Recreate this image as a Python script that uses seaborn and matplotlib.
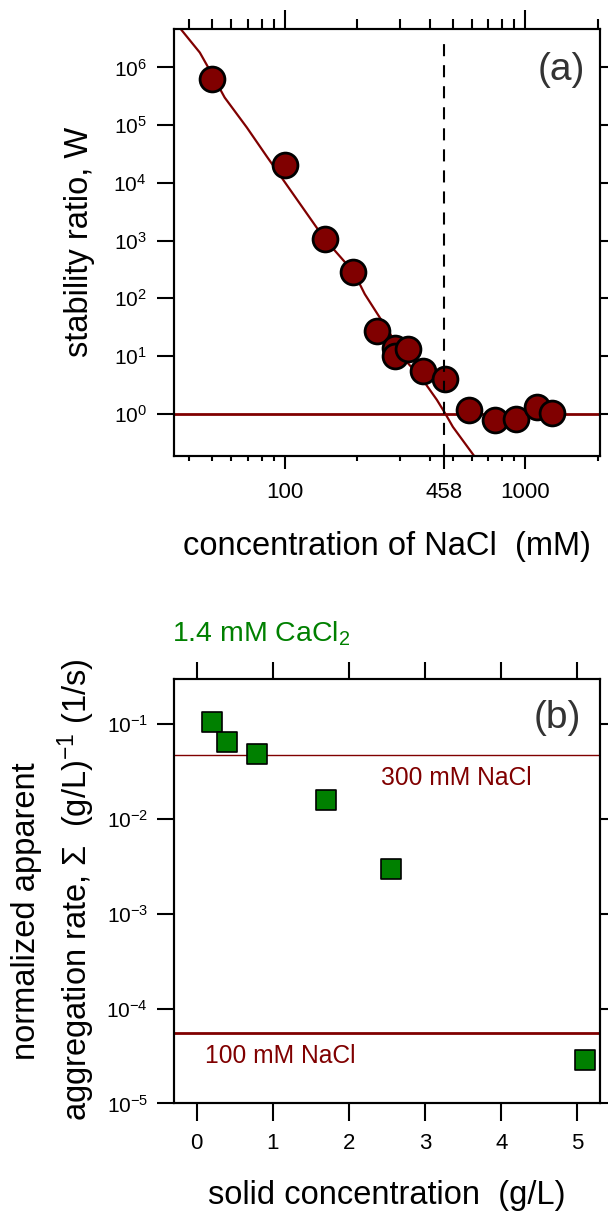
import matplotlib
matplotlib.use("Agg")
import matplotlib.pyplot as plt
import seaborn as sns
from matplotlib.ticker import LogLocator, NullFormatter, FixedLocator, FixedFormatter, MultipleLocator

# panel (a): stability ratio vs NaCl concentration
nacl_mM = [50, 100, 147, 193, 241, 287, 287, 326, 376, 463, 584, 745, 912, 1118, 1298]
stability_W = [6.2e5, 2.07e4, 1.06e3, 285, 27, 13.5, 10, 13, 5.5, 4.0, 1.16, 0.78, 0.82, 1.32, 1.02]

# fitted curve
fit_x = [36.2, 44.3, 48.8, 56.2, 69.5, 84.1, 98.1, 146.7, 193.5, 215, 273, 325, 375, 429, 463, 500, 617]
fit_y = [5.1e6, 1.81e6, 8.85e5, 3.01e5, 9.1e4, 2.87e4, 1.15e4, 1052, 283, 118, 24.9, 7.5, 3.83, 1.73, 1.03, 0.589, 0.178]

fast_W = 1.0
ccc_mM = 458
x_ticks_a = [100, 458, 1000]

# panel (b): normalized apparent aggregation rate vs solid concentration
solid_gL = [0.2, 0.4, 0.8, 1.7, 2.55, 5.1]
rate_cacl2 = [0.106, 0.0656, 0.049, 0.0158, 0.00296, 2.84e-5]
rate_300mM = 0.0471
rate_100mM = 5.47e-5

DARKRED = "#800000"
GREEN = "#008000"
LABEL_FS = 23.5

sns.set_theme(style="ticks")
plt.rcParams["font.family"] = ["Liberation Sans", "DejaVu Sans"]
plt.rcParams["mathtext.fontset"] = "custom"
plt.rcParams["mathtext.rm"] = "Liberation Sans"
plt.rcParams["mathtext.it"] = "Liberation Sans:italic"
plt.rcParams["mathtext.bf"] = "Liberation Sans:bold"
plt.rcParams["axes.unicode_minus"] = False
plt.rcParams["axes.edgecolor"] = "black"
plt.rcParams["axes.labelcolor"] = "black"
plt.rcParams["xtick.color"] = "black"
plt.rcParams["ytick.color"] = "black"
plt.rcParams["text.color"] = "black"

fig = plt.figure(figsize=(6.08, 12.17), dpi=100)
ax1 = fig.add_axes([0.2857, 0.6256, 0.7015, 0.3506])
ax2 = fig.add_axes([0.2857, 0.0933, 0.7015, 0.3488])

# ---- panel (a)
ax1.set_xscale("log")
ax1.set_yscale("log")
ax1.axhline(fast_W, color=DARKRED, lw=2, zorder=1)
sns.lineplot(x=fit_x, y=fit_y, ax=ax1, color=DARKRED, lw=1.6, sort=False,
             estimator=None, zorder=2)
sns.scatterplot(x=nacl_mM, y=stability_W, ax=ax1, s=320, color=DARKRED,
                edgecolor="black", linewidth=2, zorder=3)
ax1.axvline(ccc_mM, ymax=0.967, color="black", lw=1.5, ls=(0, (5.8, 4.3)), zorder=4)

ax1.set_xlim(34.5, 2050)
ax1.set_ylim(0.187, 4.64e6)
ax1.xaxis.set_major_locator(FixedLocator(x_ticks_a))
ax1.xaxis.set_major_formatter(FixedFormatter([str(t) for t in x_ticks_a]))
ax1.xaxis.set_minor_locator(LogLocator(base=10, subs=range(2, 10)))
ax1.xaxis.set_minor_formatter(NullFormatter())
ax1.yaxis.set_major_locator(LogLocator(base=10, numticks=20))
ax1.yaxis.set_minor_locator(FixedLocator([]))
ax1.tick_params(axis="x", which="major", length=9, width=1.5, pad=10, labelsize=16)
ax1.tick_params(axis="x", which="minor", length=3.6, width=1.5)
ax1.tick_params(axis="y", which="major", length=12.5, width=1.5, pad=7, labelsize=15,
                right=True, labelright=False)
for sp in ax1.spines.values():
    sp.set_visible(True)
    sp.set_linewidth(1.5)

ax1t = ax1.twiny()
ax1t.set_xscale("log")
ax1t.set_xlim(ax1.get_xlim())
ax1t.xaxis.set_major_locator(FixedLocator([100, 1000]))
ax1t.xaxis.set_minor_locator(LogLocator(base=10, subs=range(2, 10)))
ax1t.xaxis.set_minor_formatter(NullFormatter())
ax1t.tick_params(axis="x", which="major", length=14, width=1.5, labeltop=False)
ax1t.tick_params(axis="x", which="minor", length=7, width=1.5)
for sp in ax1t.spines.values():
    sp.set_linewidth(1.5)

ax1.set_xlabel("concentration of NaCl  (mM)", fontsize=LABEL_FS, va="center")
ax1.xaxis.set_label_coords(0.5, -0.213)
ax1.set_ylabel("stability ratio, W", fontsize=LABEL_FS, va="center")
ax1.yaxis.set_label_coords(-0.222, 0.5)
ax1.text(0.908, 0.904, "(a)", transform=ax1.transAxes, fontsize=28, color="#333333",
         ha="center", va="center")

# ---- panel (b)
ax2.set_yscale("log")
ax2.axhline(rate_300mM, color=DARKRED, lw=1.0, zorder=1)
ax2.axhline(rate_100mM, color=DARKRED, lw=2.0, zorder=1)
sns.scatterplot(x=solid_gL, y=rate_cacl2, ax=ax2, marker="s", s=215, color=GREEN,
                edgecolor="black", linewidth=1.2, zorder=3)
ax2.set_xlim(-0.3, 5.3)
ax2.set_ylim(1e-5, 0.3)
ax2.xaxis.set_major_locator(MultipleLocator(1))
ax2.yaxis.set_major_locator(LogLocator(base=10, numticks=20))
ax2.yaxis.set_minor_locator(FixedLocator([]))
ax2.tick_params(axis="x", which="major", length=13, width=1.5, pad=8, labelsize=16)
ax2.tick_params(axis="y", which="major", length=12.5, width=1.5, pad=6, labelsize=15,
                right=True, labelright=False)
for sp in ax2.spines.values():
    sp.set_visible(True)
    sp.set_linewidth(1.5)

ax2t = ax2.twiny()
ax2t.set_xlim(ax2.get_xlim())
ax2t.xaxis.set_major_locator(MultipleLocator(1))
ax2t.tick_params(axis="x", which="major", length=12.5, width=1.5, labeltop=False)
for sp in ax2t.spines.values():
    sp.set_linewidth(1.5)

ax2.text(2.42, 0.0229, "300 mM NaCl", color=DARKRED, fontsize=17.7, ha="left", va="baseline")
ax2.text(0.105, 2.65e-5, "100 mM NaCl", color=DARKRED, fontsize=17.7, ha="left", va="baseline")
ax2.text(-0.003, 1.088, r"1.4 mM CaCl$_\mathregular{2}$", transform=ax2.transAxes,
         color=GREEN, fontsize=20.5, ha="left", va="baseline")
ax2.text(0.899, 0.908, "(b)", transform=ax2.transAxes, fontsize=28, color="#333333",
         ha="center", va="center")

ax2.set_xlabel("solid concentration  (g/L)", fontsize=LABEL_FS, va="center")
ax2.xaxis.set_label_coords(0.5, -0.218)
ax2.text(-0.344, 0.4535, "normalized apparent", transform=ax2.transAxes, fontsize=LABEL_FS,
         rotation=90, ha="center", va="center")
ax2.text(-0.228, 0.503, r"aggregation rate, $\mathregular{\Sigma}$  (g/L)$^\mathregular{-1}$ (1/s)",
         transform=ax2.transAxes, fontsize=LABEL_FS, rotation=90, ha="center", va="center")

fig.savefig("out.png", dpi=100)
